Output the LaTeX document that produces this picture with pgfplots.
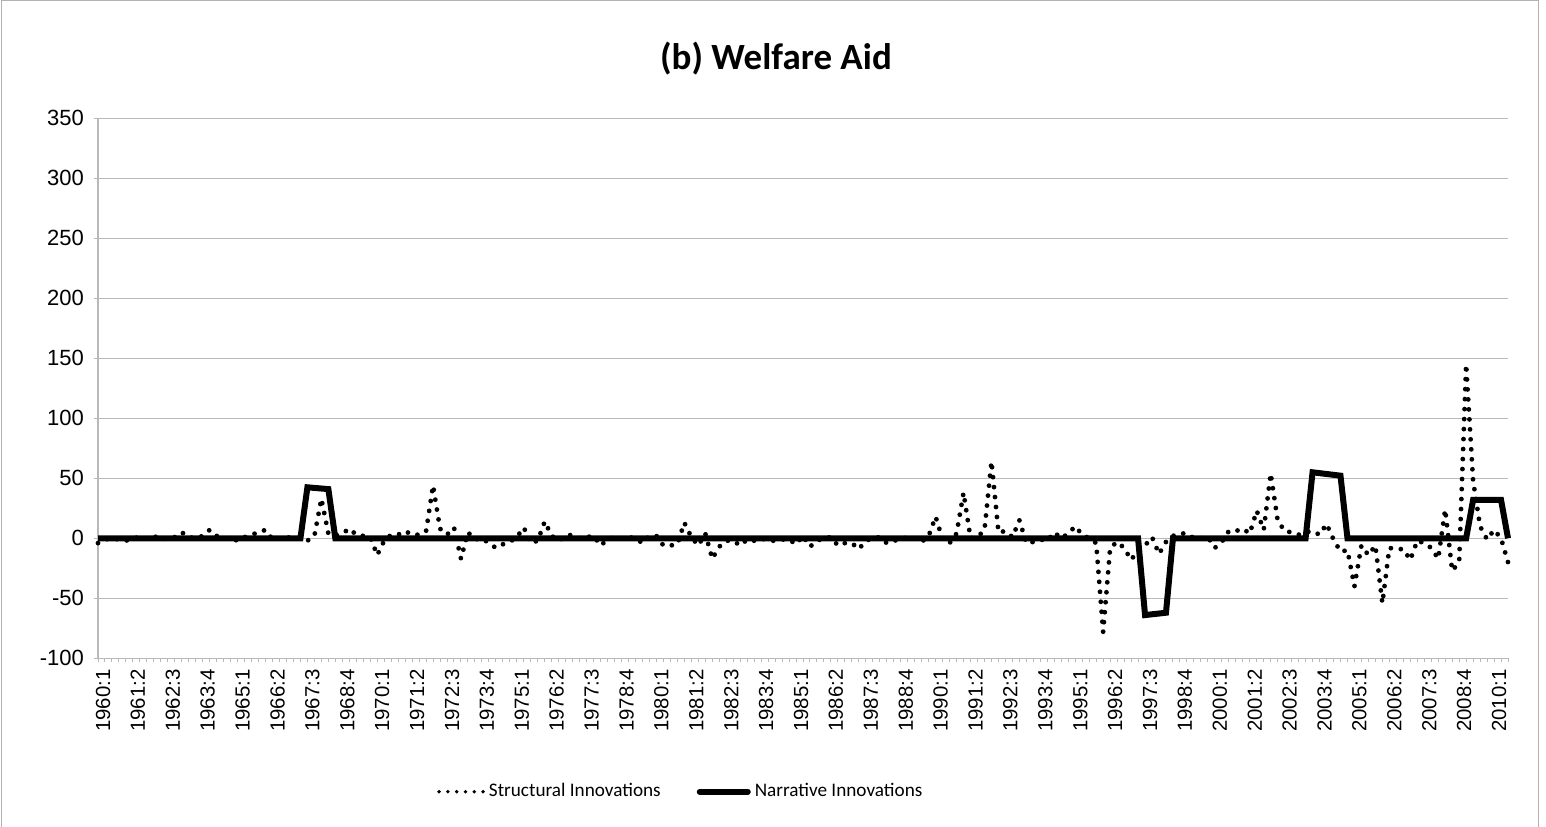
\documentclass[border=0pt]{standalone}
\usepackage{fontspec}
\setmainfont{Liberation Sans}
\newfontfamily\calibri{Carlito}
\usepackage{pgfplots}
\usepackage{pgfplotstable}
\pgfplotsset{compat=1.18}

% quarter index (0 = 1960:1), structural innovations, narrative innovations
\pgfplotstableread{
q s n
0 -4 0
1 -1 0
2 0 0
3 -1 0
4 -2 0
5 0 0
6 1 0
7 0 0
8 2 0
9 -1 0
10 0 0
11 1 0
12 5 0
13 1 0
14 0 0
15 2 0
16 7 0
17 2 0
18 0 0
19 0 0
20 -2 0
21 1 0
22 3 0
23 5 0
24 7 0
25 -1 0
26 0 0
27 1 0
28 0 0
29 0 0
30 -2 42.5
31 2 42
32 33 41.5
33 4 41
34 2 0
35 4 0
36 8 0
37 3 0
38 2 0
39 1 0
40 -14 0
41 -2 0
42 3 0
43 3 0
44 6 0
45 3 0
46 3 0
47 6 0
48 44 0
49 8 0
50 3 0
51 9 0
52 -17 0
53 5 0
54 -1 0
55 0 0
56 -4 0
57 -8 0
58 -5 0
59 -3 0
60 1 0
61 9 0
62 -4 0
63 -2 0
64 14 0
65 2 0
66 -2 0
67 2 0
68 3 0
69 0 0
70 1 0
71 2 0
72 -6 0
73 -1 0
74 1 0
75 0 0
76 1 0
77 0 0
78 -4 0
79 2 0
80 2 0
81 -6 0
82 -6 0
83 -5 0
84 13 0
85 1 0
86 -6 0
87 4 0
88 -17 0
89 -7 0
90 -2 0
91 -2 0
92 -6 0
93 -1 0
94 -2 0
95 0 0
96 -2 0
97 -2 0
98 -1 0
99 -1 0
100 -5 0
101 2 0
102 -7 0
103 -2 0
104 0 0
105 1 0
106 -6 0
107 -4 0
108 -4 0
109 -9 0
110 -2 0
111 0 0
112 1 0
113 -4 0
114 -2 0
115 -1 0
116 1 0
117 0 0
118 -3 0
119 2 0
120 18 0
121 -1 0
122 -4 0
123 4 0
124 38 0
125 0 0
126 1 0
127 7 0
128 64 0
129 5 0
130 6 0
131 1 0
132 15 0
133 -4 0
134 -3 0
135 -1 0
136 -2 0
137 5 0
138 0 0
139 4 0
140 10 0
141 3 0
142 0 0
143 -4 0
144 -78 0
145 -8 0
146 -3 0
147 -8 0
148 -18 0
149 -10 0
150 -6 -64
151 1 -63.3
152 -13 -62.7
153 -3 -62
154 2 0
155 4 0
156 4 0
157 0 0
158 0 0
159 1 0
160 -8 0
161 -3 0
162 6 0
163 6 0
164 8 0
165 4 0
166 23 0
167 7 0
168 54 0
169 15 0
170 6 0
171 5 0
172 3 0
173 5 0
174 6 55
175 3 54.3
176 12 53.6
177 -1 52.9
178 -11 52.2
179 -10 0
180 -40 0
181 -6 0
182 -14 0
183 -6 0
184 -54 0
185 -8 0
186 -9 0
187 -9 0
188 -18 0
189 -2 0
190 -4 0
191 -8 0
192 -17 0
193 24 0
194 -27 0
195 -20 0
196 145 0
197 48 32
198 10 32
199 -1 32
200 7 32
201 0 32
202 -20 0
}\welfare

\begin{document}
\begin{tikzpicture}
\useasboundingbox (0pt,0pt) rectangle (773pt,413pt);
\draw[gray!60, line width=0.5pt] (0.5pt,-2pt) rectangle (769pt,412.5pt);
\node[font=\calibri\bfseries\fontsize{18.5}{22}\selectfont] at (388pt,383.5pt) {(b) Welfare Aid};
\begin{axis}[
    at={(49pt,83.85pt)}, anchor=south west,
    scale only axis,
    width=705pt, height=270pt,
    xmin=0, xmax=202,
    ymin=-100, ymax=350,
    ytick={-100,-50,...,350},
    xtick={0,5,...,200},
    minor xtick={0,1,...,202},
    xticklabels={1960:1,1961:2,1962:3,1963:4,1965:1,1966:2,1967:3,1968:4,1970:1,1971:2,
        1972:3,1973:4,1975:1,1976:2,1977:3,1978:4,1980:1,1981:2,1982:3,1983:4,
        1985:1,1986:2,1987:3,1988:4,1990:1,1991:2,1992:3,1993:4,1995:1,1996:2,
        1997:3,1998:4,2000:1,2001:2,2002:3,2003:4,2005:1,2006:2,2007:3,2008:4,2010:1},
    x tick label style={rotate=90, anchor=east, yshift=-2.5pt, font=\fontsize{10.2}{12}\selectfont},
    y tick label style={xshift=-1.5pt, font=\fontsize{11}{12}\selectfont},
    /pgf/number format/assume math mode=true,
    ymajorgrids,
    grid style={gray!55, line width=0.6pt},
    axis x line*=bottom, axis y line*=left,
    axis line style={gray!55, line width=0.6pt},
    tick align=outside,
    major tick length=2pt, minor tick length=2pt,
    xtick style={gray!55, line width=0.5pt},
    ytick style={gray!55, line width=0.6pt},
    legend columns=2,
    legend style={at={(0.414,-0.247)}, anchor=center, draw=none, fill=none,
        font=\calibri\fontsize{9.6}{11}\selectfont,
        /tikz/every even column/.append style={column sep=16pt}},
    clip=false,
]
\addplot[black, line width=2.4pt, line cap=round, dash pattern=on 0pt off 5pt,
    legend image code/.code={\draw[black, line width=1.9pt, line cap=round,
        dash pattern=on 0pt off 4.4pt] (0pt,0pt) -- (22pt,0pt);}]
    table[x=q, y=s] {\welfare};
\addlegendentry{Structural Innovations}
\addplot[black, line width=3pt, line join=miter,
    legend image code/.code={\draw[black, line width=3pt, line cap=round] (0pt,0pt) -- (24pt,0pt);}]
    table[x=q, y=n] {\welfare};
\addlegendentry{Narrative Innovations}
\end{axis}
\end{tikzpicture}
\end{document}
